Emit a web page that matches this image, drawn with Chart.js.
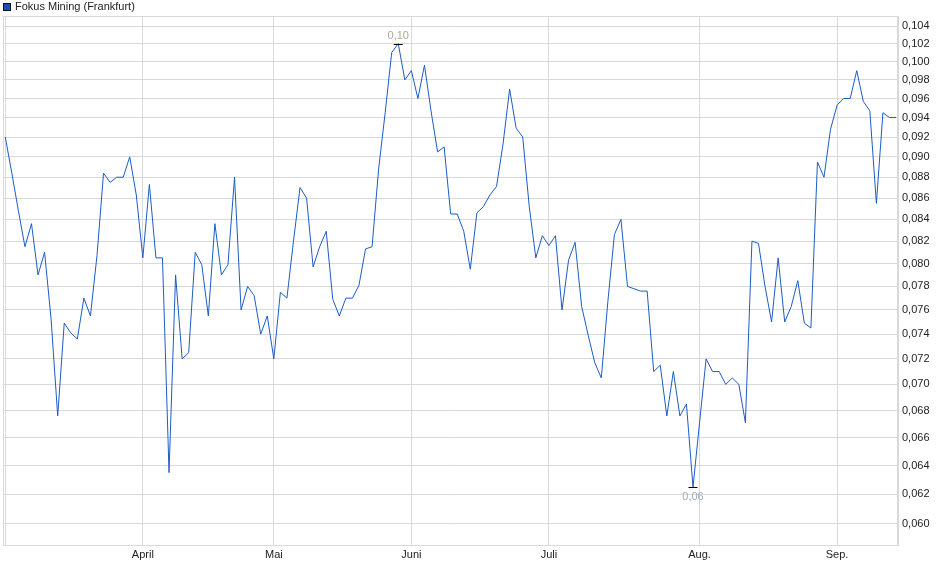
<!DOCTYPE html>
<html lang="de">
<head>
    <meta charset="UTF-8">
    <title>Fokus Mining (Frankfurt)</title>
    <script src="https://cdn.jsdelivr.net/npm/chart.js"></script>
    <style>
        html, body { margin: 0; padding: 0; background: #fff; }
        #wrap { width: 940px; height: 579px; }
    </style>
</head>
<body>
<div id="wrap"><canvas id="priceChart" width="940" height="579"></canvas></div>

<script>
    const seriesName = 'Fokus Mining (Frankfurt)';

    // Schlusskurse je Handelstag (Index 0 = erster Tag im Chart)
    const prices = [
        0.0920, 0.0884, 0.0848, 0.0815, 0.0836, 0.0790, 0.0810, 0.0752, 0.0676, 0.0749,
        0.0741, 0.0736, 0.0770, 0.0755, 0.0807, 0.0884, 0.0875, 0.0880, 0.0880, 0.0900,
        0.0863, 0.0805, 0.0873, 0.0805, 0.0805, 0.0635, 0.0790, 0.0720, 0.0725, 0.0810,
        0.0799, 0.0755, 0.0836, 0.0790, 0.0799, 0.0880, 0.0760, 0.0780, 0.0772, 0.0740,
        0.0755, 0.0720, 0.0775, 0.0770, 0.0820, 0.0870, 0.0860, 0.0797, 0.0815, 0.0829,
        0.0769, 0.0755, 0.0770, 0.0770, 0.0781, 0.0813, 0.0815, 0.0888, 0.0945, 0.1010,
        0.1020, 0.0980, 0.0990, 0.0960, 0.0996, 0.0947, 0.0905, 0.0910, 0.0845, 0.0845,
        0.0829, 0.0795, 0.0846, 0.0852, 0.0863, 0.0871, 0.0913, 0.0970, 0.0929, 0.0920,
        0.0852, 0.0805, 0.0825, 0.0816, 0.0825, 0.0760, 0.0803, 0.0819, 0.0763, 0.0739,
        0.0717, 0.0705, 0.0767, 0.0826, 0.0840, 0.0780, 0.0778, 0.0776, 0.0776, 0.0710,
        0.0715, 0.0676, 0.0710, 0.0676, 0.0685, 0.0625, 0.0671, 0.0720, 0.0710, 0.0710,
        0.0700, 0.0705, 0.0700, 0.0671, 0.0820, 0.0818, 0.0780, 0.0750, 0.0805, 0.0750,
        0.0763, 0.0785, 0.0749, 0.0745, 0.0895, 0.0880, 0.0928, 0.0953, 0.0960, 0.0960,
        0.0990, 0.0957, 0.0947, 0.0855, 0.0945, 0.0940, 0.0940
    ];

    // Monatsanfaenge (Handelstag-Index) und ihre Beschriftung
    const monthTickIdx = [0, 21, 41, 62, 83, 106, 127];
    const monthLabels = ['', 'April', 'Mai', 'Juni', 'Juli', 'Aug.', 'Sep.'];

    const yTicks = [0.060, 0.062, 0.064, 0.066, 0.068, 0.070, 0.072, 0.074, 0.076, 0.078, 0.080,
        0.082, 0.084, 0.086, 0.088, 0.090, 0.092, 0.094, 0.096, 0.098, 0.100, 0.102, 0.104];

    const FONT = "'Liberation Sans', Arial, sans-serif";
    const GRID = '#d9d9d9';
    const LINE = '#1c5cc6';

    const fmt = (v, d) => v.toFixed(d).replace('.', ',');

    // Rahmen, Legende und Hoch/Tief-Markierung
    const decor = {
        id: 'decor',
        beforeDatasetsDraw(chart) {
            const { ctx, chartArea: a } = chart;
            ctx.save();
            ctx.strokeStyle = GRID;
            ctx.lineWidth = 1;
            ctx.strokeRect(Math.round(a.left) + 0.5, Math.round(a.top) + 0.5,
                Math.round(a.right - a.left) - 1, Math.round(a.bottom - a.top));
            ctx.restore();
        },
        afterDatasetsDraw(chart) {
            const { ctx, scales } = chart;
            const x = scales.x, y = scales.y;
            ctx.save();

            // Legende
            ctx.fillStyle = '#1c4fb0';
            ctx.fillRect(3, 3, 8, 8);
            ctx.strokeStyle = '#111';
            ctx.lineWidth = 1;
            ctx.strokeRect(3.5, 3.5, 7, 7);
            ctx.fillStyle = '#222';
            ctx.font = '11px ' + FONT;
            ctx.textBaseline = 'middle';
            ctx.textAlign = 'left';
            ctx.fillText(seriesName, 15, 7);

            // Hoch / Tief
            const hi = prices.indexOf(Math.max(...prices));
            const lo = prices.indexOf(Math.min(...prices));
            const hx = x.getPixelForValue(hi), hy = y.getPixelForValue(prices[hi]);
            const lx = x.getPixelForValue(lo), ly = y.getPixelForValue(prices[lo]);
            ctx.strokeStyle = '#000';
            ctx.beginPath();
            ctx.moveTo(hx - 4.5, Math.round(hy) + 0.5);
            ctx.lineTo(hx + 4.5, Math.round(hy) + 0.5);
            ctx.moveTo(lx - 4.5, Math.round(ly) + 0.5);
            ctx.lineTo(lx + 4.5, Math.round(ly) + 0.5);
            ctx.stroke();
            ctx.font = '11px ' + FONT;
            ctx.textAlign = 'center';
            ctx.fillStyle = '#b3a794';
            ctx.fillText(fmt(prices[hi], 2), hx, hy - 8);
            ctx.fillStyle = '#a3acbd';
            ctx.fillText(fmt(prices[lo], 2), lx, ly + 10);
            ctx.restore();
        }
    };

    const ctx = document.getElementById('priceChart').getContext('2d');
    const chart = new Chart(ctx, {
        type: 'line',
        data: {
            datasets: [{
                label: seriesName,
                data: prices.map((v, i) => ({ x: i, y: v })),
                borderColor: LINE,
                borderWidth: 1,
                pointRadius: 0,
                tension: 0,
                fill: false
            }]
        },
        options: {
            responsive: false,
            animation: false,
            devicePixelRatio: 1,
            layout: { padding: { top: 16, left: 3, right: 0, bottom: 0 } },
            plugins: {
                legend: { display: false },
                tooltip: { enabled: false }
            },
            scales: {
                x: {
                    type: 'linear',
                    min: -0.35,
                    max: 136.3,
                    afterBuildTicks: s => { s.ticks = monthTickIdx.map(v => ({ value: v })); },
                    afterFit: s => { s.height = 34; },
                    grid: { color: GRID, drawTicks: false },
                    border: { color: GRID },
                    ticks: {
                        autoSkip: false,
                        maxRotation: 0,
                        padding: 3,
                        color: '#222',
                        font: { family: FONT, size: 11 },
                        callback: (v, i) => monthLabels[i]
                    }
                },
                y: {
                    type: 'logarithmic',
                    position: 'right',
                    min: 0.05862,
                    max: 0.10516,
                    afterBuildTicks: s => { s.ticks = yTicks.map(v => ({ value: v })); },
                    afterFit: s => { s.width = 42; },
                    grid: { color: GRID, drawTicks: false },
                    border: { color: GRID },
                    ticks: {
                        padding: 4,
                        color: '#222',
                        font: { family: FONT, size: 11 },
                        callback: (v, i) => fmt(yTicks[i], 3)
                    }
                }
            }
        },
        plugins: [decor]
    });
</script>
</body>
</html>
